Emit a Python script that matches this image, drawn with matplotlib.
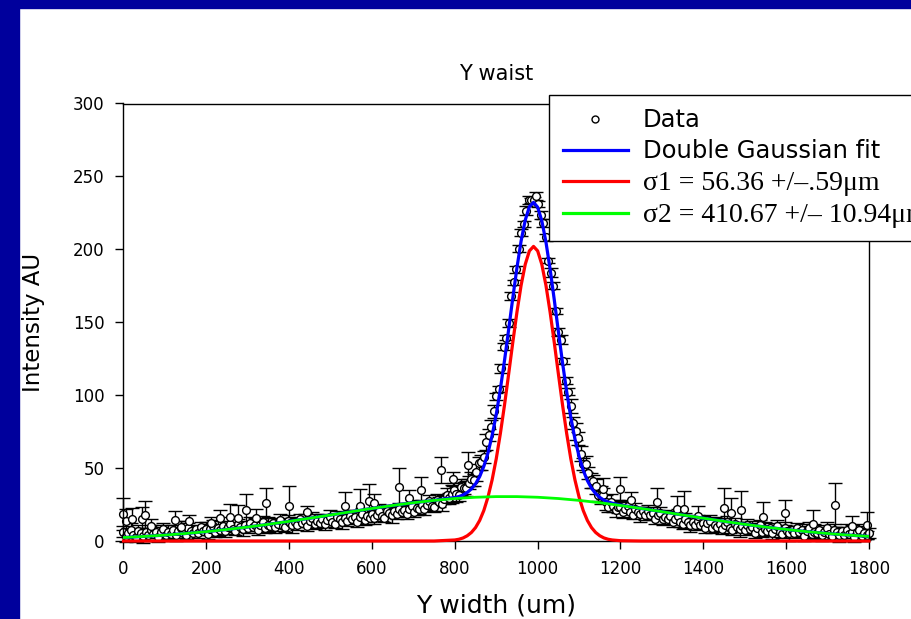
import numpy as np
import matplotlib
matplotlib.use("Agg")
import matplotlib.pyplot as plt
from matplotlib.lines import Line2D
from matplotlib.patches import Rectangle

plt.rcParams['font.family'] = 'DejaVu Sans'

# Datos medidos (banda principal), paso de 6 um
band_x = np.arange(0, 1801, 6)
band_y = [
    6.5, 3.2, 5.6, 7.8, 4.0, 2.6, 7.0, 5.2, 3.6, 6.0,
    3.8, 7.3, 4.8, 6.3, 2.8, 6.3, 8.2, 3.9, 6.2, 5.0,
    7.5, 4.3, 6.8, 9.1, 5.4, 4.1, 8.6, 6.9, 5.4, 7.9,
    5.8, 9.35, 6.9, 8.45, 5.0, 8.55, 10.5, 6.25, 8.6, 7.45,
    10.0, 6.85, 9.4, 11.75, 8.1, 6.85, 11.4, 9.75, 8.3, 10.85,
    8.8, 12.3, 9.8, 11.3, 7.8, 11.3, 13.2, 8.9, 11.2, 10.0,
    12.5, 9.35, 11.9, 14.25, 10.6, 9.35, 13.9, 12.25, 10.8, 13.35,
    11.3, 14.8, 12.3, 13.8, 10.3, 13.8, 15.7, 11.4, 13.7, 12.5,
    15.0, 11.85, 14.4, 16.75, 13.1, 11.85, 16.4, 14.75, 13.3, 15.85,
    13.8, 17.4, 15.0, 16.6, 13.2, 16.8, 18.8, 14.6, 17.0, 15.9,
    18.5, 15.45, 18.1, 20.55, 17.0, 15.85, 20.5, 18.95, 17.6, 20.25,
    18.3, 22.05, 19.8, 21.55, 18.3, 22.05, 24.2, 20.15, 22.7, 21.75,
    24.5, 21.7, 24.6, 27.3, 24.0, 23.1, 28.0, 26.7, 25.6, 28.5,
    31.5, 29.2, 32.1, 35.3, 32.0, 31.6, 37.0, 36.2, 36.1, 40.0,
    42.5, 41.7, 47.1, 53.3, 54.0, 57.6, 68.0, 72.7, 78.1, 89.0,
    99.2, 104.3, 118.4, 133.2, 139.5, 149.4, 168.0, 177.3, 186.4, 200.5,
    211.5, 217.2, 226.6, 233.8, 233.5, 233.6, 236.5, 231.2, 223.6, 218.0,
    208.2, 192.3, 183.9, 175.2, 157.5, 143.4, 138.0, 123.3, 109.9, 102.5,
    92.5, 80.7, 75.1, 70.3, 60.0, 52.6, 52.5, 46.7, 41.6, 41.0,
    37.5, 31.7, 31.6, 31.8, 26.5, 23.6, 27.0, 24.2, 21.6, 23.5,
    23.5, 19.9, 22.0, 23.9, 19.8, 18.1, 22.2, 20.1, 18.2, 20.3,
    17.8, 20.85, 17.9, 18.95, 15.0, 18.05, 19.5, 14.75, 16.6, 14.95,
    17.0, 13.35, 15.4, 17.25, 13.1, 11.35, 15.4, 13.25, 11.3, 13.35,
    10.8, 14.05, 11.3, 12.55, 8.8, 12.05, 13.7, 9.15, 11.2, 9.75,
    12.0, 8.55, 10.8, 12.85, 8.9, 7.35, 11.6, 9.65, 7.9, 10.15,
    7.8, 11.05, 8.3, 9.55, 5.8, 9.05, 10.7, 6.15, 8.2, 6.75,
    9.0, 5.6, 7.9, 10.0, 6.1, 5.0, 8.9, 7.0, 5.3, 7.6,
    5.3, 8.65, 6.0, 7.35, 3.7, 7.05, 8.8, 4.55, 6.5, 5.15,
    7.5, 4.15, 6.5, 8.65, 4.8, 3.35, 7.7, 5.85, 4.2, 6.55,
    4.3, 7.65, 5.0, 6.35, 2.7, 6.05, 7.8, 3.55, 5.5, 4.15,
    5.5,
]
band_err = (
    [3.5, 4.0, 3.0, 4.5, 3.5, 3.0, 4.0, 3.5, 5.0, 3.0] * 13
    + [5.0, 4.0, 6.0, 4.5, 5.0, 4.0, 5.5, 4.0, 5.0, 4.5] * 2
    + [2.5, 2.0, 3.0, 2.5, 2.0, 2.5, 3.0, 2.0, 2.5, 2.5] * 3
    + [5.0, 4.0, 6.0, 4.5, 5.0, 4.0, 5.5, 4.0, 5.0, 4.5] * 2
    + [3.5, 4.0, 3.0, 4.5, 3.5, 3.0, 4.0, 3.5, 5.0, 3.0] * 10
    + [3.5]
)

# Puntos dispersos con barras de error grandes
out_x = [0, 7, 20, 45, 51, 66, 124, 138, 157, 211, 232, 257, 276, 296, 321,
         345, 399, 444, 535, 571, 592, 606, 666, 689, 719, 766, 796, 832,
         1158, 1200, 1225, 1289, 1336, 1353, 1387, 1450, 1466, 1490, 1543,
         1597, 1665, 1717, 1760, 1794]
out_y = [18.3, 14.0, 15.0, 15.0, 17.6, 10.0, 14.4, 9.4, 13.5, 12.6, 15.5,
         16.2, 16.0, 21.0, 16.0, 26.0, 23.8, 19.7, 24.0, 24.0, 27.4, 26.3,
         36.8, 29.7, 34.8, 48.7, 42.7, 52.0,
         36.0, 35.7, 28.0, 27.0, 21.7, 21.7, 17.4, 22.6, 19.0, 21.3, 16.7,
         19.4, 12.0, 24.7, 10.3, 10.8]
out_err = [11.0, 8.0, 7.8, 8.0, 10.0, 5.0, 6.2, 4.0, 4.3, 4.0, 6.0,
           9.0, 9.0, 11.0, 6.0, 10.5, 14.0, 4.5, 9.8, 12.0, 12.0, 6.0,
           13.0, 5.0, 9.3, 8.7, 4.8, 9.3,
           7.0, 8.0, 5.7, 9.2, 9.1, 12.8, 6.6, 13.5, 10.3, 13.2, 10.3,
           8.7, 9.6, 14.9, 6.9, 9.3]

# Curvas del ajuste
green_x = np.arange(0, 1801, 50)
green_y = [2.41, 3.15, 4.05, 5.14, 6.42, 7.90, 9.58, 11.45, 13.47, 15.63,
           17.85, 20.10, 22.30, 24.38, 26.25, 27.85, 29.12, 30.0, 30.44, 30.44,
           30.0, 29.12, 27.85, 26.25, 24.38, 22.30, 20.10, 17.85, 15.63, 13.47,
           11.45, 9.58, 7.90, 6.42, 5.14, 4.05, 3.15]

fit_x = np.concatenate([np.arange(0, 800, 50), np.arange(800, 1190, 10),
                        np.arange(1200, 1801, 50)])
red_y = ([0.0] * 16
         + [0.7, 1.2, 2.1, 3.6, 5.85, 9.2, 14.1, 20.9, 30.1, 41.9, 56.4, 73.8,
            93.4, 114.6, 136.3, 157.0, 175.3, 189.7, 198.9, 202.0, 198.9, 189.7,
            175.3, 157.0, 136.3, 114.6, 93.4, 73.8, 56.4, 41.9, 30.1, 20.9,
            14.1, 9.2, 5.85, 3.6, 2.1, 1.2, 0.7]
         + [0.2] + [0.0] * 12)
blue_y = ([2.41, 3.15, 4.05, 5.14, 6.42, 7.90, 9.58, 11.45, 13.47, 15.63,
           17.85, 20.10, 22.30, 24.38, 26.25, 27.85]
          + [29.8, 30.5, 31.6, 33.3, 35.7, 39.2, 44.2, 51.2, 60.4, 72.3, 86.8,
             104.3, 123.9, 145.1, 166.8, 187.4, 205.7, 220.0, 229.2, 232.2,
             228.9, 219.6, 205.0, 186.5, 165.6, 143.7, 122.3, 102.5, 84.8,
             70.0, 58.0, 48.5, 41.4, 36.2, 32.5, 29.9, 28.0, 26.8, 25.9]
          + [24.6, 22.3, 20.1, 17.85, 15.63, 13.47, 11.45, 9.58, 7.90, 6.42,
             5.14, 4.05, 3.15])

labels = ['Data', 'Double Gaussian fit', '\u03c31 = 56.36 +/\u2013.59\u03bcm',
          '\u03c32 = 410.67 +/\u2013 10.94\u03bcm']

W, H = 912, 619
fig = plt.figure(figsize=(W / 100, H / 100), dpi=100)
navy = '#00009c'
fig.patches.append(Rectangle((0, 0), 19 / W, 1, transform=fig.transFigure,
                             color=navy, zorder=0))
fig.patches.append(Rectangle((0, 1 - 8 / H), 1, 8 / H, transform=fig.transFigure,
                             color=navy, zorder=0))

ax = fig.add_axes([123.5 / W, 1 - 541 / H, (869 - 123.5) / W, (541 - 103.5) / H])

style = dict(fmt='o', ms=5.6, mfc='white', mec='black', mew=1.0, ecolor='black',
             elinewidth=1.0, capsize=4.8, capthick=1.0, zorder=2)
for xs, ys, es in [(band_x, band_y, band_err), (out_x, out_y, out_err)]:
    cont = ax.errorbar(xs, ys, yerr=es, **style)
    cont[0].set_clip_on(False)
    for a in list(cont[1]) + list(cont[2]):
        a.set_clip_on(False)

ax.plot(fit_x, blue_y, color='#0000ff', lw=2.3, zorder=3)
ax.plot(fit_x, red_y, color='#ff0000', lw=2.3, zorder=3.5, clip_on=False)
ax.plot(green_x, green_y, color='#00ff00', lw=2.0, zorder=4)

ax.set_xlim(0, 1800)
ax.set_ylim(0, 300)
ax.set_xticks(np.arange(0, 1801, 200))
ax.set_yticks(np.arange(0, 301, 50))
ax.tick_params(direction='out', length=5.8, width=1, labelsize=12, pad=8)
for s in ax.spines.values():
    s.set_linewidth(1.0)

ax.set_title('Y waist', fontsize=15, pad=17)
ax.set_xlabel('Y width (um)', fontsize=18)
ax.xaxis.set_label_coords(0.5, -0.121)
ax.set_ylabel('Intensity AU', fontsize=16.5)
ax.yaxis.set_label_coords(-0.105, 0.5)

handles = [
    Line2D([], [], ls='none', marker='o', ms=5, mfc='white', mec='black', mew=1),
    Line2D([], [], color='#0000ff', lw=2.3),
    Line2D([], [], color='#ff0000', lw=2.3),
    Line2D([], [], color='#00ff00', lw=2.3),
]
leg = ax.legend(handles, labels, loc='upper left',
                bbox_to_anchor=(549.3 / W, 1 - 94.7 / H),
                bbox_transform=fig.transFigure, borderaxespad=0,
                fancybox=False, framealpha=1, edgecolor='black',
                prop={'family': 'DejaVu Sans', 'size': 17.5}, numpoints=1,
                handlelength=2.7, handletextpad=0.6, borderpad=0.55,
                labelspacing=0.3)
leg.get_frame().set_linewidth(1.0)
for t in leg.get_texts()[2:]:
    t.set_fontfamily(['Liberation Serif', 'DejaVu Serif'])
    t.set_fontsize(20)

fig.savefig('out.png', dpi=100)
